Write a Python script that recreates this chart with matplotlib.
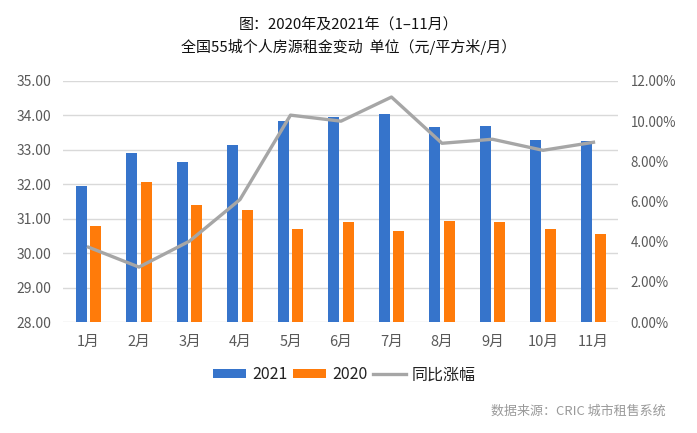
import numpy as np
import matplotlib.pyplot as plt
from matplotlib.ticker import FuncFormatter

plt.rcParams["font.family"] = ["Noto Sans CJK SC", "DejaVu Sans"]

months = ["1月", "2月", "3月", "4月", "5月", "6月", "7月", "8月", "9月", "10月", "11月"]
rent_2021 = [31.95, 32.91, 32.65, 33.14, 33.84, 33.95, 34.04, 33.66, 33.70, 33.30, 33.25]
rent_2020 = [30.80, 32.06, 31.40, 31.25, 30.70, 30.90, 30.65, 30.93, 30.90, 30.70, 30.55]
yoy_pct = [3.73, 2.74, 4.03, 6.10, 10.30, 10.00, 11.20, 8.90, 9.10, 8.55, 8.95]

blue = "#3674CB"
orange = "#FF7B0A"
grey = "#A6A6A6"
tick_color = "#595959"

fig = plt.figure(figsize=(6.97, 4.33), dpi=100)
ax = fig.add_axes([0.09, 0.256, 0.797, 0.557])

x = np.arange(len(months))
w = 0.22
ax.bar(x - 0.14, rent_2021, w, color=blue, label="2021", zorder=2)
ax.bar(x + 0.14, rent_2020, w, color=orange, label="2020", zorder=2)

ax.set_ylim(28, 35)
ax.set_xlim(-0.51, 10.49)
ax.set_yticks(np.arange(28, 35.5, 1))
ax.yaxis.set_major_formatter(FuncFormatter(lambda v, p: f"{v:.2f}"))
ax.set_xticks(x)
ax.set_xticklabels(months)
ax.grid(axis="y", color="#D9D9D9", linewidth=1, zorder=0)
ax.set_axisbelow(True)
for s in ax.spines.values():
    s.set_visible(False)
ax.tick_params(length=0, colors=tick_color, labelsize=10)
ax.tick_params(axis="x", pad=9, labelsize=10.5)
ax.tick_params(axis="y", pad=8)

ax2 = ax.twinx()
ax2.plot(x, yoy_pct, color=grey, linewidth=2.4, label="同比涨幅", zorder=3)
ax2.set_ylim(0, 12)
ax2.set_yticks(np.arange(0, 12.5, 2))
ax2.yaxis.set_major_formatter(FuncFormatter(lambda v, p: f"{v:.2f}%"))
for s in ax2.spines.values():
    s.set_visible(False)
ax2.tick_params(length=0, colors=tick_color, labelsize=9.6, pad=9)

fig.text(0.5, 0.942, "图：2020年及2021年（1–11月）", ha="center", va="center",
         fontsize=10.8, color="#111111")
fig.text(0.5, 0.891, "全国55城个人房源租金变动  单位（元/平方米/月）", ha="center", va="center",
         fontsize=10.8, color="#111111")

h1, l1 = ax.get_legend_handles_labels()
h2, l2 = ax2.get_legend_handles_labels()
fig.legend(h1 + h2, l1 + l2, loc="center", bbox_to_anchor=(0.494, 0.134), ncol=3,
           frameon=False, fontsize=11.5, handlelength=2.1, handleheight=0.5,
           columnspacing=0.35, handletextpad=0.35, labelcolor="#222222")

fig.text(0.955, 0.051, "数据来源：CRIC 城市租售系统", ha="right", va="center",
         fontsize=9.4, color="#9A9A9A")

fig.savefig("out.png", dpi=100)
